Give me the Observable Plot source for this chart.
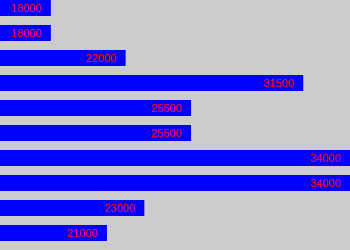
<!DOCTYPE html>
<html>
<head>
<meta charset="utf-8">
<script src="https://cdn.jsdelivr.net/npm/d3@7"></script>
<script src="https://cdn.jsdelivr.net/npm/@observablehq/plot@0.6"></script>
<style>
html, body { margin: 0; padding: 0; background: #cccccc; }
</style>
</head>
<body>
<div id="chart"></div>
<script>
const categories = ["1", "2", "3", "4", "5", "6", "7", "8", "9", "10"];
const values = [18000, 18000, 22000, 31500, 25500, 25500, 34000, 34000, 23000, 21000];

const data = categories.map((c, i) => ({cat: c, value: values[i]}));

const chart = Plot.plot({
  width: 350,
  height: 250,
  marginTop: 0,
  marginBottom: 9,
  marginLeft: 0,
  marginRight: 0,
  style: {background: "#cccccc", overflow: "hidden"},
  x: {domain: [15280, 34000], axis: null},
  y: {domain: categories, axis: null, paddingInner: 0.36, paddingOuter: 0, align: 0},
  marks: [
    Plot.barX(data, {x1: 15280, x2: "value", y: "cat", fill: "#0000ff"}),
    Plot.text(data, {
      x: "value", y: "cat", text: d => String(d.value),
      textAnchor: "end", dx: -10, fill: "#ff0000",
      fontSize: 11, fontFamily: "Liberation Sans"
    })
  ]
});
document.getElementById("chart").appendChild(chart);
</script>
</body>
</html>
